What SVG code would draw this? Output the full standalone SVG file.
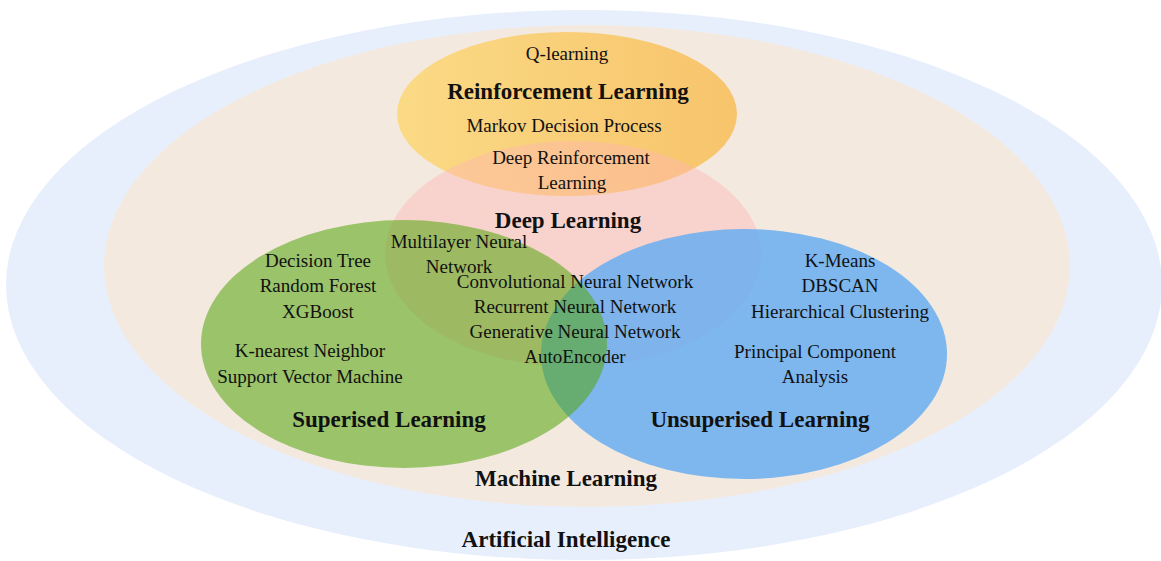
<svg xmlns="http://www.w3.org/2000/svg" width="1161" height="561" viewBox="0 0 1161 561">
<defs>
<linearGradient id="gOrange" x1="0" y1="0" x2="1" y2="0">
<stop offset="0" stop-color="#fbda86"/>
<stop offset="1" stop-color="#f7c46b"/>
</linearGradient>
<style>
text{font-family:"Liberation Serif","Times New Roman",serif;fill:#111;text-anchor:middle}
.r{font-size:19px}
.b{font-size:23px;font-weight:bold}
</style>
</defs>
<rect width="1161" height="561" fill="#ffffff"/>
<g id="ai"><ellipse cx="584" cy="285" rx="578" ry="275" fill="#e8effc"/></g>
<g id="ml"><ellipse cx="587" cy="266" rx="483" ry="241" fill="#f3e9df"/></g>
<g id="rl"><ellipse cx="567" cy="114" rx="170" ry="82" fill="url(#gOrange)"/></g>
<g id="dl"><ellipse cx="573" cy="254" rx="188" ry="113" fill="#ffb5b5" fill-opacity="0.42"/></g>
<g id="ul"><ellipse cx="744" cy="354" rx="203" ry="125" fill="#68adf1" fill-opacity="0.85"/></g>
<g id="sl"><ellipse cx="404" cy="344" rx="203" ry="124" fill="#56a60e" fill-opacity="0.56"/></g>
<g id="connectors"></g>
<g id="labels">
<text class="r" x="567" y="60">Q-learning</text>
<text class="b" x="568" y="99">Reinforcement Learning</text>
<text class="r" x="564" y="132">Markov Decision Process</text>
<text class="r" x="571" y="164">Deep Reinforcement</text>
<text class="r" x="572" y="189">Learning</text>
<text class="b" x="568" y="228">Deep Learning</text>
<text class="r" x="459" y="248">Multilayer Neural</text>
<text class="r" x="459" y="273">Network</text>
<text class="r" x="575" y="288">Convolutional Neural Network</text>
<text class="r" x="575" y="313">Recurrent Neural Network</text>
<text class="r" x="575" y="338">Generative Neural Network</text>
<text class="r" x="575" y="363">AutoEncoder</text>
<text class="r" x="318" y="267">Decision Tree</text>
<text class="r" x="318" y="292">Random Forest</text>
<text class="r" x="318" y="318">XGBoost</text>
<text class="r" x="310" y="357">K-nearest Neighbor</text>
<text class="r" x="310" y="383">Support Vector Machine</text>
<text class="b" x="389" y="427">Superised Learning</text>
<text class="r" x="840" y="267">K-Means</text>
<text class="r" x="840" y="292">DBSCAN</text>
<text class="r" x="840" y="318">Hierarchical Clustering</text>
<text class="r" x="815" y="358">Principal Component</text>
<text class="r" x="815" y="383">Analysis</text>
<text class="b" x="760" y="427">Unsuperised Learning</text>
<text class="b" x="566" y="486">Machine Learning</text>
<text class="b" x="566" y="547">Artificial Intelligence</text>
</g>
</svg>
